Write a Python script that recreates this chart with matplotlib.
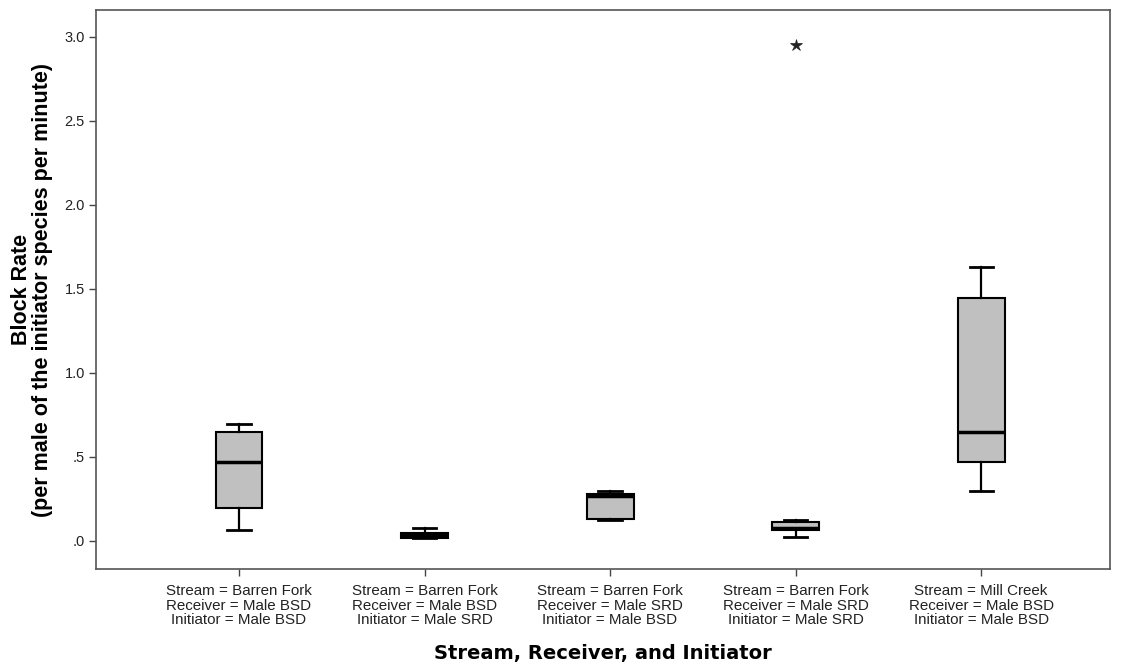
import matplotlib
matplotlib.use("Agg")
import matplotlib.pyplot as plt

groups = [
    "Stream = Barren Fork\nReceiver = Male BSD\nInitiator = Male BSD",
    "Stream = Barren Fork\nReceiver = Male BSD\nInitiator = Male SRD",
    "Stream = Barren Fork\nReceiver = Male SRD\nInitiator = Male BSD",
    "Stream = Barren Fork\nReceiver = Male SRD\nInitiator = Male SRD",
    "Stream = Mill Creek\nReceiver = Male BSD\nInitiator = Male BSD",
]
whislo = [0.065, 0.015, 0.125, 0.024, 0.30]
q1 = [0.196, 0.018, 0.13, 0.065, 0.47]
med = [0.47, 0.036, 0.27, 0.077, 0.649]
q3 = [0.649, 0.048, 0.28, 0.113, 1.446]
whishi = [0.696, 0.077, 0.298, 0.125, 1.63]
fliers = [[], [], [], [2.95], []]

yticks = [0.0, 0.5, 1.0, 1.5, 2.0, 2.5, 3.0]
yticklabels = [".0", ".5", "1.0", "1.5", "2.0", "2.5", "3.0"]

fig = plt.figure(figsize=(11.25, 6.67), dpi=100)
ax = fig.add_axes([0.0853, 0.1469, 0.9014, 0.8381])

stats = []
for i in range(len(groups)):
    stats.append(dict(whislo=whislo[i], q1=q1[i], med=med[i], q3=q3[i],
                      whishi=whishi[i], fliers=fliers[i]))

positions = list(range(1, len(groups) + 1))
ax.bxp(stats, positions=positions, widths=0.253, capwidths=0.125,
       patch_artist=True, showfliers=True,
       boxprops=dict(facecolor="#c0c0c0", edgecolor="black", linewidth=1.5),
       medianprops=dict(color="black", linewidth=2.5),
       whiskerprops=dict(color="black", linewidth=1.6),
       capprops=dict(color="black", linewidth=2.0),
       flierprops=dict(marker="*", markerfacecolor="#222222", markeredgecolor="#222222",
                       markersize=9, markeredgewidth=0.5, linestyle="none"))

ax.set_xlim(0.229, 5.695)
ax.set_ylim(-0.167, 3.16)
ax.set_yticks(yticks)
ax.set_yticklabels(yticklabels, fontsize=10.5, family="Liberation Sans", color="#222222")
ax.set_xticks(positions)
ax.set_xticklabels(groups, fontsize=10.9, family="Liberation Sans", linespacing=1.05, color="#222222")
ax.tick_params(axis="y", direction="out", length=5, width=1, color="#444444", pad=3)
ax.tick_params(axis="x", direction="out", length=5, width=1, color="#444444", pad=6)
ax.tick_params(top=False, right=False)

for s in ax.spines.values():
    s.set_color("#555555")
    s.set_linewidth(1.2)

ax.set_ylabel("Block Rate\n(per male of the initiator species per minute)",
              fontsize=15.5, fontweight="bold", family="Liberation Sans", linespacing=1.0, labelpad=8)
ax.set_xlabel("Stream, Receiver, and Initiator", fontsize=14, fontweight="bold",
              family="DejaVu Sans", labelpad=12)

fig.savefig("out.png", dpi=100)
